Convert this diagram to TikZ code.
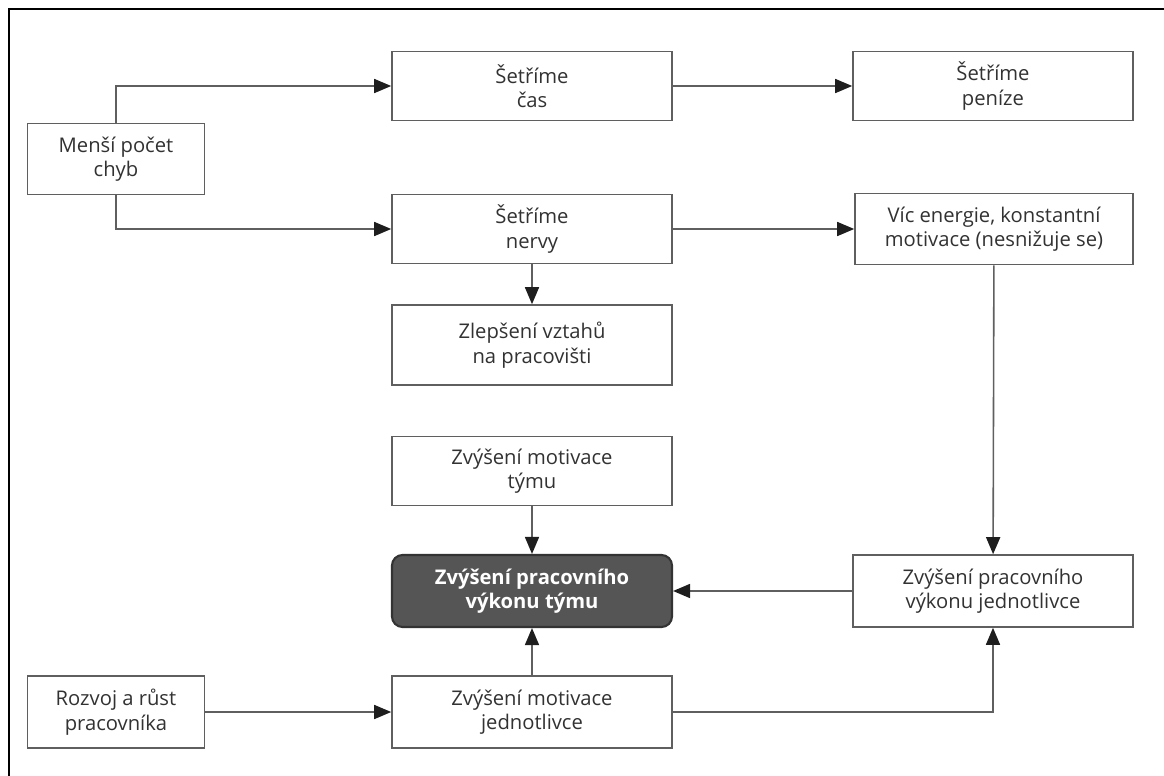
\documentclass[tikz,border=0pt]{standalone}
\usepackage{fontspec}
\setmainfont{Open Sans}
\usepackage{tikz}
\usetikzlibrary{arrows.meta, positioning}
\definecolor{linecolor}{RGB}{95,95,95}
\definecolor{textcolor}{RGB}{50,50,50}
\definecolor{maincolor}{RGB}{85,85,85}
\definecolor{tipcolor}{RGB}{30,30,30}

\begin{document}
\begin{tikzpicture}[
    box/.style={draw=linecolor, line width=0.9pt, fill=white, minimum width=5.6cm, minimum height=1.38cm, font=\fontsize{11.5}{14}\selectfont, text=textcolor, align=center, inner sep=2pt},
    smallbox/.style={box, minimum width=3.54cm},
    mainbox/.style={box, draw=black!80, line width=1.2pt, fill=maincolor, text=white, rounded corners=6pt, font=\fontsize{11.5}{14}\selectfont\bfseries},
    arrow/.style={-{Triangle[length=3.4mm, width=2.8mm, color=tipcolor]}, draw=linecolor, line width=0.9pt}
]
    \useasboundingbox (0,0) rectangle (23.28,-15.52);
    % Frame
    \draw[line width=1.4pt] (0.18,-15.6) -- (0.18,-0.18) -- (23.4,-0.18);

    % Boxes
    \node[smallbox, minimum height=1.42cm] (chyby) at (2.32,-3.18) {Menší počet\\chyb};
    \node[box] (cas) at (10.64,-1.72) {Šetříme\\čas};
    \node[box] (penize) at (19.86,-1.72) {Šetříme\\peníze};
    \node[box] (nervy) at (10.64,-4.58) {Šetříme\\nervy};
    \node[box, minimum width=5.56cm, minimum height=1.42cm] (energie) at (19.88,-4.58) {Víc energie, konstantní\\motivace (nesnižuje se)};
    \node[box, minimum height=1.6cm] (vztahy) at (10.64,-6.9) {Zlepšení vztahů\\na pracovišti};
    \node[box] (motivtym) at (10.64,-9.42) {Zvýšení motivace\\týmu};
    \node[mainbox, minimum height=1.44cm] (vykontym) at (10.64,-11.82) {Zvýšení pracovního\\výkonu týmu};
    \node[box, minimum height=1.44cm] (vykonjed) at (19.86,-11.82) {Zvýšení pracovního\\výkonu jednotlivce};
    \node[smallbox, minimum height=1.44cm] (rozvoj) at (2.32,-14.24) {Rozvoj a růst\\pracovníka};
    \node[box, minimum height=1.44cm] (motivjed) at (10.64,-14.24) {Zvýšení motivace\\jednotlivce};

    % Connections
    \draw[arrow] (chyby.north) |- (cas.west);
    \draw[arrow] (chyby.south) |- (nervy.west);
    \draw[arrow] (cas) -- (penize);
    \draw[arrow] (nervy) -- (energie);
    \draw[arrow] (nervy) -- (vztahy);
    \draw[arrow] (energie) -- (vykonjed);
    \draw[arrow] (motivtym) -- (vykontym);
    \draw[arrow] (vykonjed) -- (vykontym);
    \draw[arrow] (motivjed) -- (vykontym);
    \draw[arrow] (rozvoj) -- (motivjed);
    \draw[arrow] (motivjed.east) -| (vykonjed.south);
\end{tikzpicture}
\end{document}
